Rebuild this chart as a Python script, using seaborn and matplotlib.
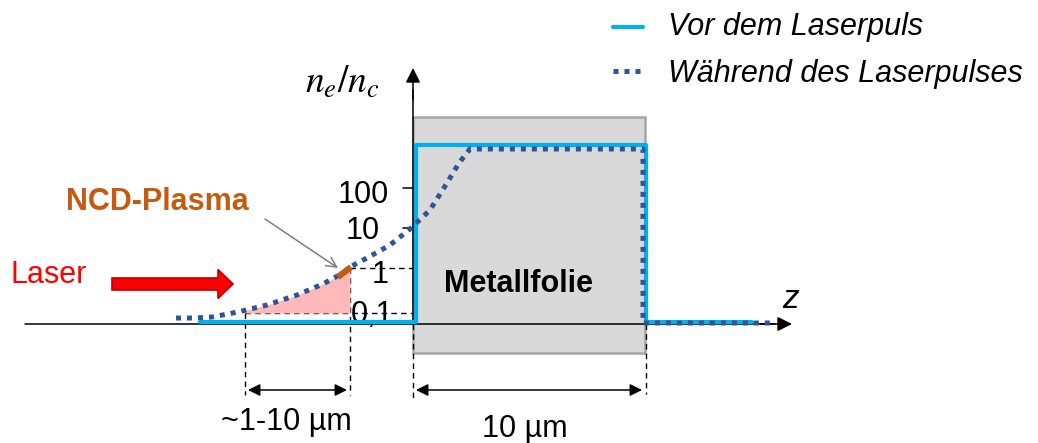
import matplotlib
matplotlib.use("Agg")
import matplotlib.pyplot as plt
import seaborn as sns
import numpy as np
import pandas as pd
from matplotlib.patches import Rectangle, FancyArrow

sns.set_theme(style="white")
plt.rcParams["font.family"] = ["Liberation Sans", "DejaVu Sans"]
plt.rcParams["mathtext.fontset"] = "stix"
plt.rcParams["text.color"] = "black"

# ---- data (schematic coordinates: z to the right, y downward) ----
before_z = [200, 416, 416, 646, 646, 752]
before_y = [322, 322, 145, 145, 322, 322]

during_z = [176, 195, 212, 238, 267, 297, 323, 343, 350, 367, 390, 410, 430, 447, 459, 470, 643, 643, 772]
during_y = [318, 318, 317, 312, 305, 295, 284, 273, 267, 258, 245, 229, 210, 183, 163, 149, 149, 323, 323]

series_labels = ["Vor dem Laserpuls", "Während des Laserpulses"]
tick_labels = ["100", "10", "1", "0,1"]
tick_y = [188, 228, 268, 313]

ncd_z = [338, 351]
ncd_y = [277, 267]
pink_z = [245, 267, 297, 323, 343, 350]

BLUE = "#00b0f0"
DARK = "#2f5597"

fig = plt.figure(figsize=(10.38, 4.43), dpi=100)
ax = fig.add_axes([0, 0, 1, 1])
ax.set_xlim(0, 1038)
ax.set_ylim(443, 0)
ax.axis("off")

# foil box
ax.add_patch(Rectangle((413, 117), 232, 236, facecolor="#d9d9d9",
                       edgecolor="#a6a6a6", lw=1.8, zorder=1))

# axes (z and n_e/n_c)
ax.plot([25, 775], [324, 324], color="black", lw=1.1, zorder=2)
ax.annotate("", xy=(792, 324), xytext=(760, 324),
            arrowprops=dict(arrowstyle="-|>", color="black", lw=1.1,
                            mutation_scale=22, shrinkA=0, shrinkB=0), zorder=2)
ax.plot([413, 413], [324, 90], color="black", lw=1.1, zorder=2)
ax.annotate("", xy=(413, 68), xytext=(413, 100),
            arrowprops=dict(arrowstyle="-|>", color="black", lw=1.1,
                            mutation_scale=22, shrinkA=0, shrinkB=0), zorder=2)

# y tick marks
for ty in tick_y[:2]:
    ax.plot([403, 413], [ty, ty], color="black", lw=1.1, zorder=2)
# dashed guide lines
dash = dict(color="black", lw=1.0, ls=(0, (4, 3)), zorder=2)
ax.plot([350, 413], [tick_y[2], tick_y[2]], **dash)
ax.plot([245, 413], [tick_y[3], tick_y[3]], **dash)
ax.plot([245, 245], [tick_y[3], 395], **dash)
ax.plot([350, 350], [tick_y[2], 395], **dash)
ax.plot([413, 413], [324, 400], **dash)
ax.plot([646, 646], [324, 394], **dash)

# tick labels
ax.text(363, 203, tick_labels[0], fontsize=22, ha="center", va="baseline", zorder=3)
ax.text(363, 239, tick_labels[1], fontsize=22, ha="center", va="baseline", zorder=3)
ax.text(380, 283, tick_labels[2], fontsize=22, ha="center", va="baseline", zorder=3)
ax.text(372, 323, tick_labels[3], fontsize=22, ha="center", va="baseline", zorder=3)

# pink NCD region
pink_top = np.interp(pink_z, during_z[:12], during_y[:12])
ax.fill_between(pink_z, pink_top, tick_y[3], color="#ffb9b9", lw=0, zorder=2)

# profiles
df = pd.DataFrame({
    "z": before_z + during_z,
    "y": before_y + during_y,
    "serie": [series_labels[0]] * len(before_z) + [series_labels[1]] * len(during_z),
})
sns.lineplot(data=df[df.serie == series_labels[0]], x="z", y="y", sort=False,
             estimator=None, color=BLUE, lw=3.0, ax=ax, zorder=4, legend=False)
sns.lineplot(data=df[df.serie == series_labels[1]], x="z", y="y", sort=False,
             estimator=None, color=DARK, lw=3.6, ax=ax, zorder=5, legend=False,
             dashes=False)
ax.lines[-1].set_linestyle((0, (1, 1.2)))
ax.lines[-1].set_dash_capstyle("butt")
ax.set_xlim(0, 1038)
ax.set_ylim(443, 0)
ax.set_xlabel("")
ax.set_ylabel("")

# orange NCD marker
ax.plot(ncd_z, ncd_y, color="#c55a11", lw=4.5, solid_capstyle="butt", zorder=6)

# legend (manual)
ax.plot([613, 643], [27, 27], color=BLUE, lw=3.0)
l2, = ax.plot([613, 643], [71, 71], color=DARK, lw=3.6, ls=(0, (1, 1.2)))
l2.set_dash_capstyle("butt")
ax.text(668, 35, series_labels[0], fontsize=22, style="italic", va="baseline")
ax.text(668, 82, series_labels[1], fontsize=22, style="italic", va="baseline")

# labels
ax.text(342, 93, r"$n_e/n_c$", fontsize=27, ha="center", va="baseline")
ax.text(791, 308, "z", fontsize=24, style="italic", ha="center", va="baseline")
ax.text(518, 292, "Metallfolie", fontsize=22, fontweight="bold", ha="center", va="baseline", zorder=3)
ax.text(157, 210, "NCD-Plasma", fontsize=22, fontweight="bold", color="#c55a11",
        ha="center", va="baseline")
ax.text(49, 283, "Laser", fontsize=22, color="#ff0000", ha="center", va="baseline")

# laser arrow
ax.add_patch(FancyArrow(112, 284, 121, 0, width=12, head_width=29, head_length=15,
                        length_includes_head=True, facecolor="#ff0000",
                        edgecolor="#c00000", lw=1.2, zorder=3))

# annotation arrow for NCD plasma
ax.annotate("", xy=(338, 268), xytext=(265, 219),
            arrowprops=dict(arrowstyle="->", color="#7f7f7f", lw=1.1,
                            mutation_scale=18, shrinkA=0, shrinkB=0))

# dimension arrows
for x0, x1 in [(248, 347), (416, 642)]:
    ax.annotate("", xy=(x1, 390), xytext=(x0, 390),
                arrowprops=dict(arrowstyle="<|-|>", color="black", lw=1.1,
                                mutation_scale=18, shrinkA=0, shrinkB=0))
ax.text(286, 430, "~1-10 µm", fontsize=22, ha="center", va="baseline")
ax.text(525, 437, "10 µm", fontsize=22, ha="center", va="baseline")

fig.savefig("out.png", dpi=100)
